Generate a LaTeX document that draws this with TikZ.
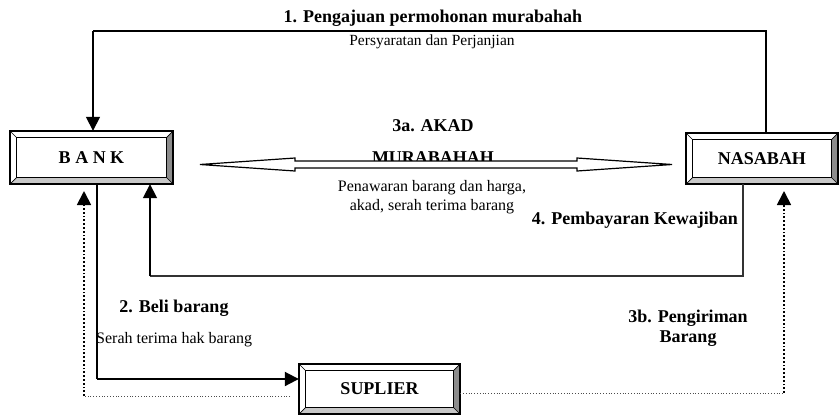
\documentclass[tikz,border=0pt]{standalone}
\usepackage{fontspec}
\setmainfont{Liberation Serif}
\usetikzlibrary{arrows.meta,calc}
\newcommand\mybevel[1]{%
  \coordinate (#1-inw) at ([shift={(7pt,-7pt)}]#1.north west);
  \coordinate (#1-ine) at ([shift={(-7pt,-7pt)}]#1.north east);
  \coordinate (#1-isw) at ([shift={(7pt,7pt)}]#1.south west);
  \coordinate (#1-ise) at ([shift={(-7pt,7pt)}]#1.south east);
  \fill[darkface] (#1.north east) -- (#1.south east) -- (#1-ise) -- (#1-ine) -- cycle;
  \fill[lightface] (#1.south west) -- (#1.south east) -- (#1-ise) -- (#1-isw) -- cycle;
  \draw[line width=1.8pt] (#1.north west) rectangle (#1.south east);
  \draw[line width=0.9pt] (#1-inw) rectangle (#1-ise);
  \draw[line width=0.7pt] (#1.north west) -- (#1-inw) (#1.north east) -- (#1-ine)
        (#1.south west) -- (#1-isw) (#1.south east) -- (#1-ise);
}
\definecolor{darkface}{RGB}{140,140,140}
\definecolor{lightface}{RGB}{200,200,200}
\tikzset{
  boxnode/.style={inner sep=0pt, font=\fontsize{18}{20}\selectfont\bfseries},
  boldlbl/.style={inner sep=0pt, font=\fontsize{18}{20}\selectfont\bfseries, align=center},
  smalllbl/.style={inner sep=0pt, font=\fontsize{16}{19}\selectfont, align=center},
  tip/.style={-{Triangle[length=14pt,width=14pt]}},
  solidline/.style={line width=1.4pt, black},
  dotv/.style={line width=1.8pt, dotted},
  doth/.style={line width=0.8pt, dotted, black!70},
}
\begin{document}
\begin{tikzpicture}[x=1pt,y=-1pt]
\useasboundingbox (0,0) rectangle (839,416);

% boxes
\node[boxnode, minimum width=163pt, minimum height=53pt] (bank) at (91.5,157.5) {B A N K};
\node[boxnode, minimum width=152pt, minimum height=51pt] (nasabah) at (762,158.5) {NASABAH};
\node[boxnode, minimum width=161pt, minimum height=50pt] (suplier) at (379.5,389) {SUPLIER};
\mybevel{bank}
\mybevel{nasabah}
\mybevel{suplier}

% 1. top connector
\coordinate (c1a) at (766,31);
\coordinate (c1b) at (93,31);
\draw[solidline, line width=1.2pt] (c1a |- nasabah.north) -- (c1a) -- (c1b);
\draw[solidline, line width=1.6pt, tip] (c1b) -- (c1b |- bank.north);
\node[boldlbl] (t1) at (433,18) {1. Pengajuan permohonan murabahah};
\node[smalllbl, font=\fontsize{15.5}{18}\selectfont] (t1b) at (432,42) {Persyaratan dan Perjanjian};

% 3a. double arrow
\node[boldlbl] (t3a) at (433,126) {3a. AKAD};
\node[boldlbl] (t3m) at (433,158) {MURABAHAH};
\coordinate (dl) at (200,164.5);
\coordinate (dr) at (672,164.5);
\draw[line width=1.2pt, fill=white, line join=miter]
  (dl) -- ($(dl)+(95,-6.5)$) -- ($(dl)+(95,-3.5)$) -- ($(dr)+(-95,-3.5)$) -- ($(dr)+(-95,-6.5)$)
  -- (dr) -- ($(dr)+(-95,6.5)$) -- ($(dr)+(-95,3.5)$) -- ($(dl)+(95,3.5)$) -- ($(dl)+(95,6.5)$) -- cycle;
\node[smalllbl] (t3b) at (432,197.5) {Penawaran barang dan harga,\\akad, serah terima barang};

% 4. payment
\coordinate (c4a) at (743,276);
\coordinate (c4b) at (150,276);
\draw[solidline, line width=1.5pt, black!80] (c4a |- nasabah.south) -- (c4a) -- (c4b);
\draw[solidline, line width=1.8pt, tip] (c4b) -- (c4b |- bank.south);
\node[boldlbl, anchor=east] (t4) at (738,220) {4. Pembayaran Kewajiban};

% 2. buy goods
\coordinate (c2) at (97,379);
\draw[solidline, line width=1.5pt] (c2 |- bank.south) -- (c2);
\draw[solidline, line width=2pt, tip] (c2) -- (suplier.west |- c2);
\node[boldlbl] (t2) at (174,308) {2. Beli barang};
\node[smalllbl, anchor=west] (t2b) at (96,340) {Serah terima hak barang};

% dotted left
\coordinate (d1a) at (290,396);
\coordinate (d1b) at (84,396);
\coordinate (d1c) at (84,191);
\draw[doth] (d1a) -- (d1b);
\draw[dotv, tip] (d1b) -- (d1c);

% dotted right
\coordinate (d2b) at (784,393);
\coordinate (d2c) at (784,191);
\draw[doth] (suplier.east |- d2b) -- (d2b);
\draw[dotv, tip] (d2b) -- (d2c);
\node[boldlbl] (t3c) at (688,328) {3b. Pengiriman\\Barang};
\end{tikzpicture}
\end{document}
